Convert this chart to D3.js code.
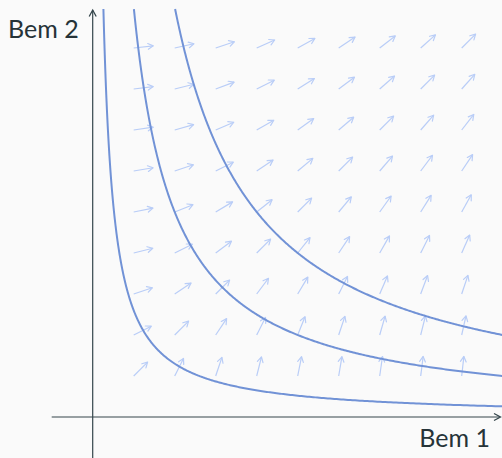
<!DOCTYPE html>
<html><head><meta charset="utf-8">
<script src="https://cdn.jsdelivr.net/npm/d3@7"></script>
<style>
html,body{margin:0;padding:0;background:#fafafa;}
svg{display:block;}
</style></head>
<body>
<script>
// Data
const gridX = [1,2,3,4,5,6,7,8,9];
const gridY = [1,2,3,4,5,6,7,8,9];
const levels = [2.6, 10, 20];          // utility levels  x*y = k
const xLabel = "Bem 1";
const yLabel = "Bem 2";

const W = 502, H = 458;
const svg = d3.select("body").append("svg").attr("width", W).attr("height", H);
svg.append("rect").attr("width", W).attr("height", H).attr("fill", "#fafafa");

const x = d3.scaleLinear().domain([0, 10]).range([92.7, 502.7]);
const y = d3.scaleLinear().domain([0, 10]).range([417, 7]);

// arrow field (normalized gradient of x*y)
const arrowLen = 0.48;
const field = [];
gridX.forEach(gx => gridY.forEach(gy => field.push({gx, gy})));
const arrowColor = "#b9cdf7";
const g = svg.append("g");
field.forEach(d => {
  const ux = d.gy, uy = d.gx;
  const n = Math.hypot(ux, uy);
  const x0 = x(d.gx), y0 = y(d.gy);
  const x1 = x(d.gx + arrowLen * ux / n), y1 = y(d.gy + arrowLen * uy / n);
  const ang = Math.atan2(y1 - y0, x1 - x0);
  const hl = 6, ha = 0.5;
  g.append("line").attr("x1", x0).attr("y1", y0).attr("x2", x1).attr("y2", y1)
    .attr("stroke", arrowColor).attr("stroke-width", 1.2);
  g.append("path")
    .attr("d", `M${x1 - hl*Math.cos(ang - ha)},${y1 - hl*Math.sin(ang - ha)} L${x1},${y1} L${x1 - hl*Math.cos(ang + ha)},${y1 - hl*Math.sin(ang + ha)}`)
    .attr("fill", "none").attr("stroke", arrowColor).attr("stroke-width", 1.2)
    .attr("stroke-linecap", "round").attr("stroke-linejoin", "round");
});

// indifference curves
const yTop = 9.95, xRight = 10;
const line = d3.line().x(d => x(d[0])).y(d => y(d[1])).curve(d3.curveLinear);
levels.forEach(k => {
  const pts = [];
  const x0 = k / yTop;
  const N = 400;
  for (let i = 0; i <= N; i++) {
    // denser sampling near the steep part
    const t = i / N;
    const xv = x0 * Math.pow(xRight / x0, t);
    pts.push([xv, k / xv]);
  }
  svg.append("path").attr("d", line(pts)).attr("fill", "none")
    .attr("stroke", "#7192d6").attr("stroke-width", 2);
});

// axes
const axisColor = "#34454b";
svg.append("line").attr("x1", x(-1)).attr("x2", 500).attr("y1", y(0)).attr("y2", y(0))
  .attr("stroke", axisColor).attr("stroke-width", 1.2);
svg.append("path").attr("d", `M494,${y(0)-3.5} L500.5,${y(0)} L494,${y(0)+3.5}`)
  .attr("fill", "none").attr("stroke", axisColor).attr("stroke-width", 1.3);
svg.append("line").attr("x1", x(0)).attr("x2", x(0)).attr("y1", H).attr("y2", 10)
  .attr("stroke", axisColor).attr("stroke-width", 1.2);
svg.append("path").attr("d", `M${x(0)-3.5},16.5 L${x(0)},10 L${x(0)+3.5},16.5`)
  .attr("fill", "none").attr("stroke", axisColor).attr("stroke-width", 1.3);

// labels
svg.append("text").attr("x", 8).attr("y", 37.5).text(yLabel)
  .attr("font-family", "Lato, 'Open Sans', sans-serif").attr("font-size", 25)
  .attr("fill", "#263338");
svg.append("text").attr("x", 490).attr("y", 446.5).attr("text-anchor", "end").text(xLabel)
  .attr("font-family", "Lato, 'Open Sans', sans-serif").attr("font-size", 25)
  .attr("fill", "#263338");
</script>
</body></html>
